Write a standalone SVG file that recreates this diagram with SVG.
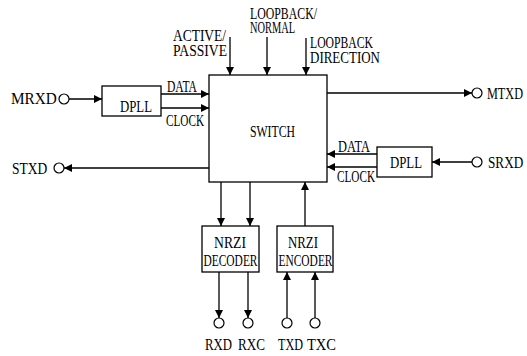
<svg xmlns="http://www.w3.org/2000/svg" width="527" height="356" viewBox="0 0 527 356">
<style>
  text { font-family: "Liberation Serif", "DejaVu Serif", serif; font-size: 17px; fill: #000; }
  .box { fill: #fff; stroke: #000; stroke-width: 1.3; }
  .pin { fill: #fff; stroke: #000; stroke-width: 1.2; }
  .ln { stroke: #000; stroke-width: 1.3; fill: none; }
  .arr { marker-end: url(#ah); }
</style>
<defs>
  <marker id="ah" viewBox="0 0 10 10" refX="10" refY="5" markerWidth="9" markerHeight="8" markerUnits="userSpaceOnUse" orient="auto">
    <path d="M0,0 L10,5 L0,10 z" fill="#000"/>
  </marker>
</defs>
<rect width="527" height="356" fill="#fff"/>

<g id="connectors">
  <line class="ln arr" x1="69" y1="99" x2="102" y2="99"/>
  <line class="ln arr" x1="161" y1="94" x2="209" y2="94"/>
  <line class="ln arr" x1="161" y1="108" x2="209" y2="108"/>
  <line class="ln arr" x1="209" y1="168" x2="64" y2="168"/>
  <line class="ln arr" x1="230" y1="37" x2="230" y2="75"/>
  <line class="ln arr" x1="267" y1="37" x2="267" y2="75"/>
  <line class="ln arr" x1="306" y1="38" x2="306" y2="75"/>
  <line class="ln arr" x1="327" y1="93" x2="472" y2="93"/>
  <line class="ln arr" x1="472" y1="162" x2="432" y2="162"/>
  <line class="ln arr" x1="377" y1="154" x2="327" y2="154"/>
  <line class="ln arr" x1="377" y1="167" x2="327" y2="167"/>
  <line class="ln arr" x1="221" y1="182" x2="221" y2="226"/>
  <line class="ln arr" x1="250" y1="182" x2="250" y2="226"/>
  <line class="ln arr" x1="305" y1="226" x2="305" y2="182"/>
  <line class="ln arr" x1="219" y1="272" x2="219" y2="318"/>
  <line class="ln arr" x1="248" y1="272" x2="248" y2="318"/>
  <line class="ln arr" x1="287" y1="318" x2="287" y2="272"/>
  <line class="ln arr" x1="315" y1="318" x2="315" y2="272"/>
</g>

<g id="switch">
  <rect class="box" x="209" y="75" width="118" height="107"/>
  <text transform="translate(250,137) scale(0.75,1)" textLength="60" lengthAdjust="spacingAndGlyphs">SWITCH</text>
</g>

<g id="dpll-m">
  <rect class="box" x="102" y="86" width="59" height="30"/>
  <text transform="translate(120,112) scale(0.75,1)" textLength="42.7" lengthAdjust="spacingAndGlyphs">DPLL</text>
</g>

<g id="dpll-s">
  <rect class="box" x="377" y="147" width="55" height="30"/>
  <text transform="translate(390,168) scale(0.75,1)" textLength="42.7" lengthAdjust="spacingAndGlyphs">DPLL</text>
</g>

<g id="nrzi-decoder">
  <rect class="box" x="202" y="226" width="57" height="46"/>
  <text transform="translate(214,248) scale(0.75,1)" textLength="42.7" lengthAdjust="spacingAndGlyphs">NRZI</text>
  <text transform="translate(203.5,266) scale(0.75,1)" textLength="72" lengthAdjust="spacingAndGlyphs">DECODER</text>
</g>

<g id="nrzi-encoder">
  <rect class="box" x="277" y="226" width="56" height="46"/>
  <text transform="translate(288,248) scale(0.75,1)" textLength="40" lengthAdjust="spacingAndGlyphs">NRZI</text>
  <text transform="translate(278.5,266) scale(0.75,1)" textLength="72" lengthAdjust="spacingAndGlyphs">ENCODER</text>
</g>

<g id="mrxd">
  <circle class="pin" cx="64" cy="99" r="5"/>
  <text transform="translate(11,104) scale(0.75,1)" textLength="61" lengthAdjust="spacingAndGlyphs">MRXD</text>
</g>

<g id="stxd">
  <circle class="pin" cx="59" cy="168" r="5"/>
  <text transform="translate(12,174) scale(0.75,1)" textLength="47" lengthAdjust="spacingAndGlyphs">STXD</text>
</g>

<g id="mtxd">
  <circle class="pin" cx="477" cy="93" r="5"/>
  <text transform="translate(487,99) scale(0.75,1)" textLength="48" lengthAdjust="spacingAndGlyphs">MTXD</text>
</g>

<g id="srxd">
  <circle class="pin" cx="477" cy="162" r="5"/>
  <text transform="translate(488,168) scale(0.75,1)" textLength="47" lengthAdjust="spacingAndGlyphs">SRXD</text>
</g>

<g id="rxd">
  <circle class="pin" cx="219" cy="323" r="5"/>
  <text transform="translate(205,350) scale(0.75,1)" textLength="36" lengthAdjust="spacingAndGlyphs">RXD</text>
</g>
<g id="rxc">
  <circle class="pin" cx="248" cy="323" r="5"/>
  <text transform="translate(238,350) scale(0.75,1)" textLength="36" lengthAdjust="spacingAndGlyphs">RXC</text>
</g>
<g id="txd">
  <circle class="pin" cx="287" cy="323" r="5"/>
  <text transform="translate(278,350) scale(0.75,1)" textLength="33.3" lengthAdjust="spacingAndGlyphs">TXD</text>
</g>
<g id="txc">
  <circle class="pin" cx="315" cy="323" r="5"/>
  <text transform="translate(307,350) scale(0.75,1)" textLength="38.7" lengthAdjust="spacingAndGlyphs">TXC</text>
</g>

<g id="labels">
  <text transform="translate(167,92) scale(0.75,1)" textLength="40" lengthAdjust="spacingAndGlyphs">DATA</text>
  <text transform="translate(166,126) scale(0.75,1)" textLength="50.7" lengthAdjust="spacingAndGlyphs">CLOCK</text>
  <text transform="translate(338,152) scale(0.75,1)" textLength="42.7" lengthAdjust="spacingAndGlyphs">DATA</text>
  <text transform="translate(337,182) scale(0.75,1)" textLength="50.7" lengthAdjust="spacingAndGlyphs">CLOCK</text>
  <text transform="translate(173,41) scale(0.75,1)" textLength="70.7" lengthAdjust="spacingAndGlyphs">ACTIVE/</text>
  <text transform="translate(173,56) scale(0.75,1)" textLength="72" lengthAdjust="spacingAndGlyphs">PASSIVE</text>
  <text transform="translate(250,19) scale(0.75,1)" textLength="89.3" lengthAdjust="spacingAndGlyphs">LOOPBACK/</text>
  <text transform="translate(250,33) scale(0.75,1)" textLength="60" lengthAdjust="spacingAndGlyphs">NORMAL</text>
  <text transform="translate(310,48) scale(0.75,1)" textLength="84" lengthAdjust="spacingAndGlyphs">LOOPBACK</text>
  <text transform="translate(310,63) scale(0.75,1)" textLength="93.3" lengthAdjust="spacingAndGlyphs">DIRECTION</text>
</g>
</svg>
